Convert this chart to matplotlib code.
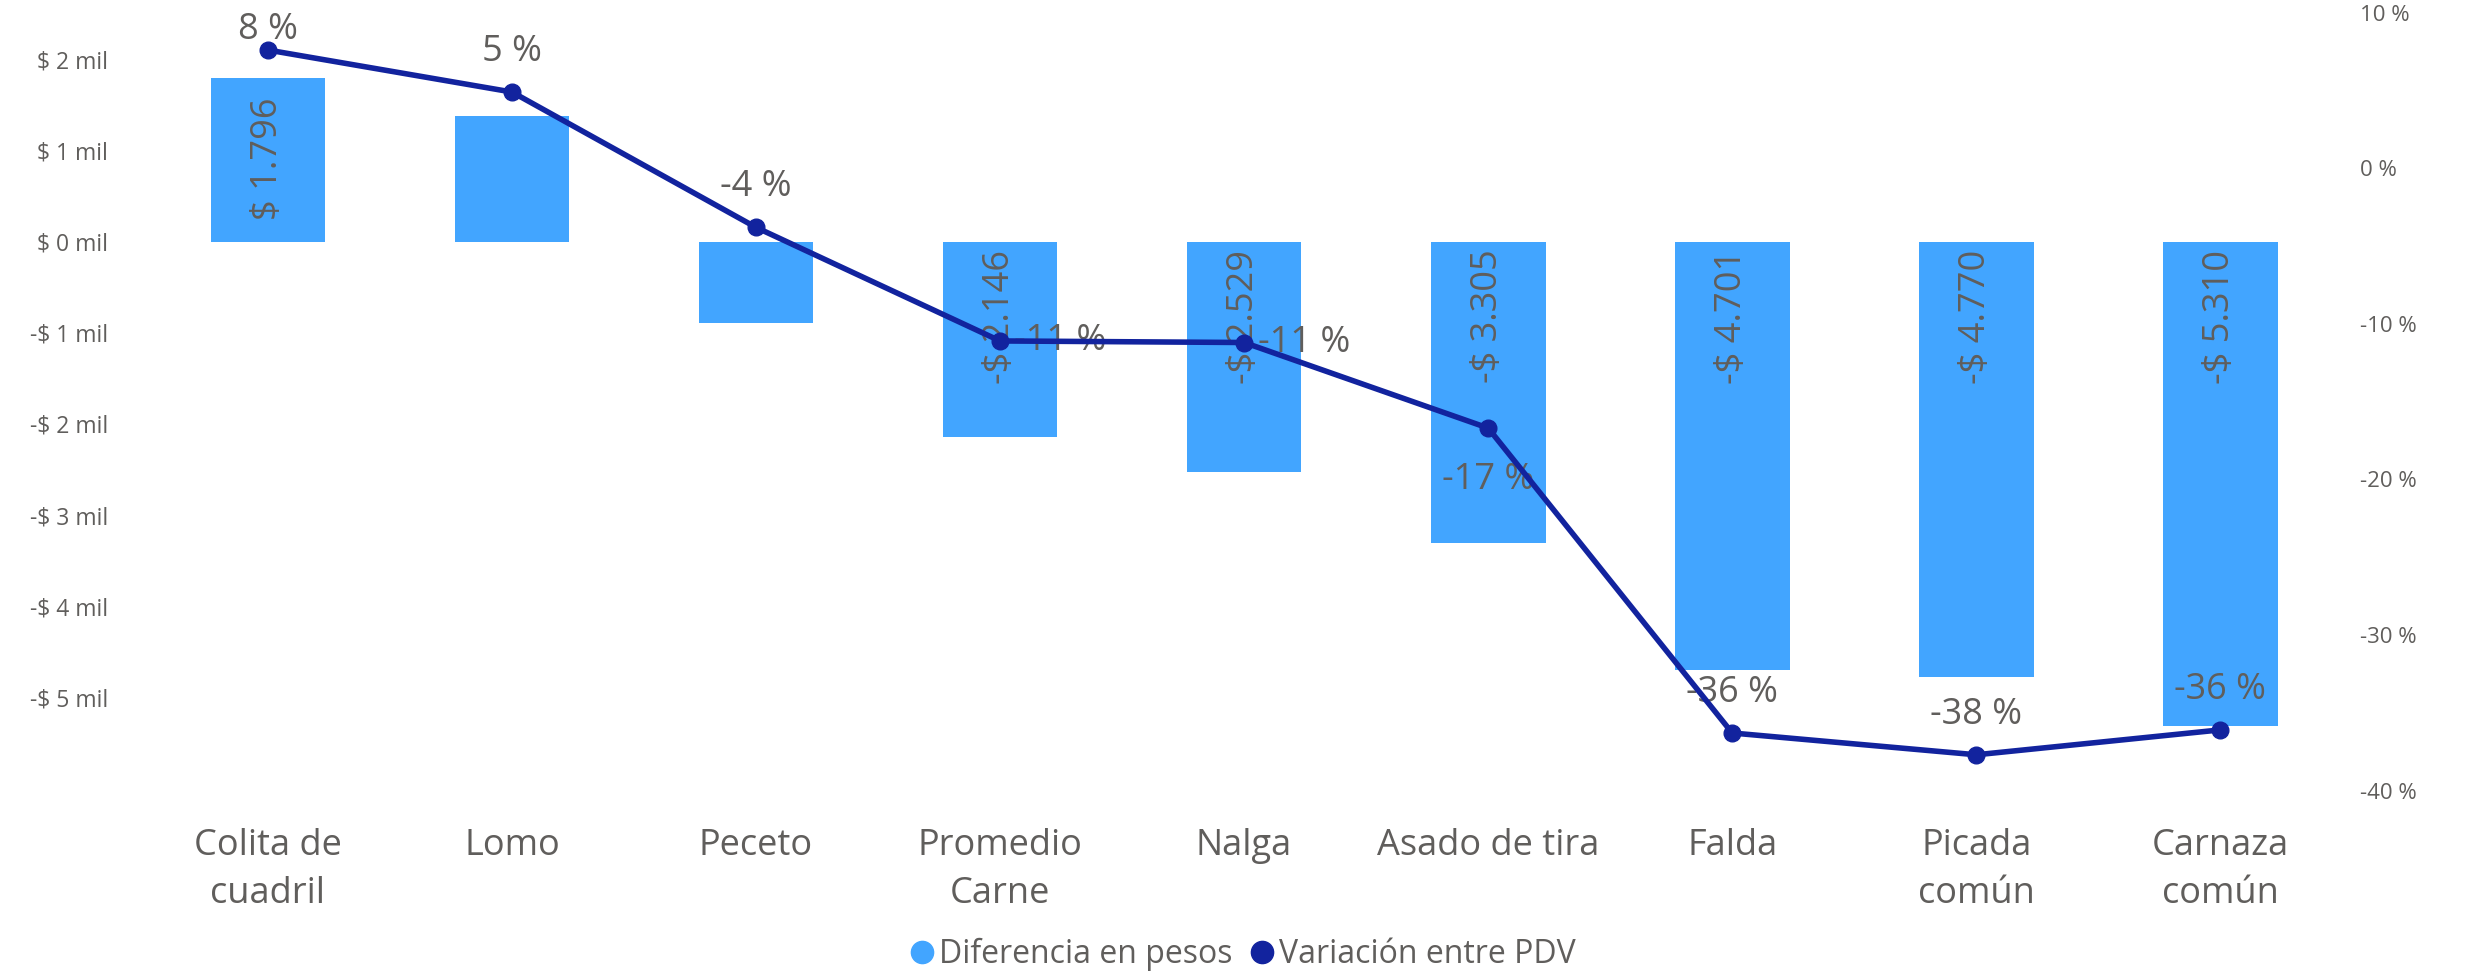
import matplotlib.pyplot as plt
from matplotlib.ticker import FuncFormatter
from matplotlib.lines import Line2D

# data
categorias = ["Colita de\ncuadril", "Lomo", "Peceto", "Promedio\nCarne", "Nalga",
              "Asado de tira", "Falda", "Picada\ncomún", "Carnaza\ncomún"]
diferencia_pesos = [1796, 1380, -890, -2146, -2529, -3305, -4701, -4770, -5310]
etiquetas_pesos = ["$ 1.796", None, None, "-$ 2.146", "-$ 2.529", "-$ 3.305",
                   "-$ 4.701", "-$ 4.770", "-$ 5.310"]
variacion_pdv = [7.6, 4.9, -3.8, -11.1, -11.2, -16.7, -36.3, -37.7, -36.1]
etiquetas_pct = ["8 %", "5 %", "-4 %", "-11 %", "-11 %", "-17 %", "-36 %", "-38 %", "-36 %"]
# where Power BI put each % label relative to its point
lugar_pct = ["top", "above", "above", "right", "right", "below", "above", "above", "above"]

COLOR_BAR = "#42A5FF"
COLOR_LINE = "#12239E"
GRIS = "#605E5C"

plt.rcParams["font.family"] = ["Open Sans", "DejaVu Sans"]

fig = plt.figure(figsize=(24.85, 9.76), dpi=100)
ax = fig.add_axes([0.0587, 0.190, 0.8839, 0.797])
ax2 = ax.twinx()

x = list(range(len(categorias)))
ax.bar(x, [v / 1000 for v in diferencia_pesos], width=0.47, color=COLOR_BAR, zorder=1)
ax.set_xlim(-0.5, len(categorias) - 0.5)
ax.set_ylim(-6.02, 2.51)
ax.set_yticks(range(-5, 3))
ax.yaxis.set_major_formatter(FuncFormatter(
    lambda v, p: f"$ {int(v)} mil" if v >= 0 else f"-$ {int(-v)} mil"))

for xi, v, lab in zip(x, diferencia_pesos, etiquetas_pesos):
    if lab is None:
        continue
    top = max(v, 0) / 1000
    pad = 20 if v > 0 else 8
    ax.annotate(lab, (xi, top), xytext=(0, -pad), textcoords="offset pixels",
                rotation=90, ha="center", va="top", fontsize=26, color=GRIS, zorder=3)

ax2.plot(x, variacion_pdv, color=COLOR_LINE, lw=4, marker="o", ms=12, zorder=4)
ax2.set_ylim(-40, 10)
ax2.set_yticks(range(-40, 11, 10))
ax2.yaxis.set_major_formatter(FuncFormatter(lambda v, p: f"{int(v)} %"))

for xi, v, lab, where in zip(x, variacion_pdv, etiquetas_pct, lugar_pct):
    if where == "above":
        off, ha, va = (0, 22), "center", "bottom"
    elif where == "top":
        off, ha, va = (0, 2), "center", "bottom"
    elif where == "below":
        off, ha, va = (0, -34), "center", "top"
    else:
        off, ha, va = (14, 0), "left", "center"
    ax2.annotate(lab, (xi, v), xytext=off, textcoords="offset pixels",
                 ha=ha, va=va, fontsize=26, color=GRIS, annotation_clip=False)

ax.set_xticks(x)
ax.set_xticklabels(categorias, fontsize=26, color=GRIS, linespacing=1.45)
ax.tick_params(axis="x", length=0, pad=27)
ax.tick_params(axis="y", length=0, pad=27, labelsize=16.5, labelcolor=GRIS)
ax2.tick_params(axis="y", length=0, pad=13, labelsize=16, labelcolor=GRIS)
for a in (ax, ax2):
    for s in a.spines.values():
        s.set_visible(False)

handles = [Line2D([], [], ls="", marker="o", ms=16, color=COLOR_BAR),
           Line2D([], [], ls="", marker="o", ms=16, color=COLOR_LINE)]
leg = fig.legend(handles, ["Diferencia en pesos", "Variación entre PDV"],
                 loc="center", bbox_to_anchor=(0.5, 0.022), ncol=2, frameon=False,
                 fontsize=23, handletextpad=0.15, columnspacing=0.5, handlelength=0.8)
for t in leg.get_texts():
    t.set_color(GRIS)

fig.savefig("out.png", dpi=100)
